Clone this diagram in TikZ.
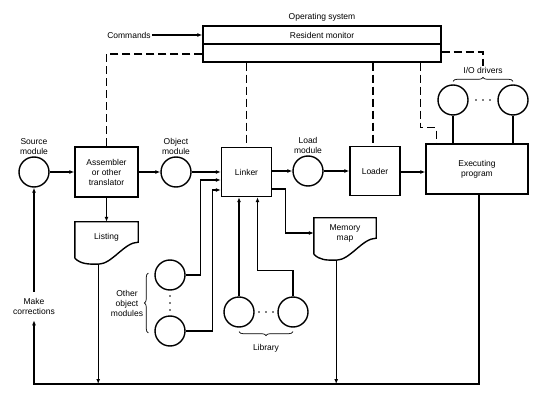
\documentclass[tikz,border=0pt]{standalone}
\usepackage{fontspec}
\setmainfont{Liberation Sans}
\usetikzlibrary{arrows.meta,positioning,calc,decorations.pathreplacing}

% outline of a printed sheet, with a named point on its lowest edge
\newcommand{\docform}[1]{%
  \draw[wire] ($(#1.south west)+(0,6)$) -- (#1.north west) -- (#1.north east)
    -- ($(#1.south east)+(0,-10)$)
    .. controls +(-14,0) and +(14,0) .. ($(#1.south east)+(-40,12)$) coordinate (#1-out)
    .. controls +(-10,0) and +(6,6) .. ($(#1.south west)+(0,6)$);}

\begin{document}
\begin{tikzpicture}[
        x=1pt, y=-1pt,
        font=\fontsize{8.5}{10}\selectfont,
        wire/.style={line width=1.4pt},
        feed/.style={wire, -{Latex[length=5pt, width=4pt]}},
        ctrl/.style={wire, dash pattern=on 8pt off 4pt},
        block/.style={draw, wire, align=center, inner sep=2pt},
        unit/.style={circle, draw, wire, minimum size=30pt, inner sep=0pt},
        sheet/.style={align=center, minimum width=63pt, minimum height=30pt, inner sep=2pt},
        tag/.style={align=center, inner sep=1pt},
        spot/.style={circle, fill, inner sep=0pt, minimum size=1.8pt},
        curly/.style={decorate, decoration={brace, amplitude=4pt}, line width=0.7pt}
    ]
        \useasboundingbox (0,0) rectangle (534,419);

        % operating system
        \node[block, minimum width=238pt, minimum height=36pt] (osbox) at (322,44) {};
        \node[block, minimum width=238pt, minimum height=18pt] (resmon) at (322,35) {Resident monitor};
        \node[tag, above=3pt of osbox] (ostxt) {Operating system};
        \node[tag] (cmd) at (129,35) {Commands};

        % main chain
        \node[unit] (src) at (34,172) {};
        \node[tag, above=1pt of src] (srctxt) {Source\\module};
        \node[block, minimum width=63pt, minimum height=50pt] (asm) at (106.5,172) {Assembler\\or other\\translator};
        \node[unit] (objm) at (176,172) {};
        \node[tag, above=1pt of objm] (objtxt) {Object\\module};
        \node[block, minimum width=50pt, minimum height=49pt] (linker) at (246.5,172) {Linker};
        \node[unit] (loadm) at (308,171) {};
        \node[tag, above=1pt of loadm] (loadtxt) {Load\\module};
        \node[block, minimum width=50pt, minimum height=49pt] (loader) at (375,171) {Loader};
        \node[block, minimum width=102pt, minimum height=50pt] (exec) at (477,169) {Executing\\program};

        % I/O drivers
        \node[unit] (io1) at (453,100) {};
        \node[unit] (io2) at (513,100) {};
        \node[tag] (iotxt) at (483,70) {I/O drivers};

        % printed output
        \node[sheet] (listing) at (106.5,237) {Listing};
        \node[sheet, minimum width=62pt] (mmap) at (345,233) {Memory\\map};
        \docform{listing}
        \docform{mmap}

        % other object modules and library
        \node[unit] (oom1) at (170,275) {};
        \node[unit] (oom2) at (170,331) {};
        \node[tag] (oomtxt) at (127,303) {Other\\object\\modules};
        \node[unit] (lib1) at (239,312) {};
        \node[unit] (lib2) at (293,312) {};
        \node[tag] (libtxt) at (266,348) {Library};

        \node[tag, inner ysep=6pt] (make) at (34,306) {Make\\corrections};
        \coordinate (base) at (0,384);

        % dots between the circles
        \foreach \k in {-7,0,7} {
            \node[spot] at ($(io1)!0.5!(io2)+(\k,0)$) {};
            \node[spot] at ($(lib1)!0.5!(lib2)+(\k,0)$) {};
            \node[spot] at ($(oom1)!0.5!(oom2)+(0,\k)$) {};
        }

        % braces
        \draw[curly] ([xshift=-6pt,yshift=-2pt]oom2.west) -- ([xshift=-6pt,yshift=2pt]oom1.west);
        \draw[curly] ([yshift=-4pt]lib2.south) -- ([yshift=-4pt]lib1.south);
        \draw[curly] ([yshift=3pt]io1.north) -- ([yshift=3pt]io2.north);

        % control (dashed)
        \draw[ctrl] ([yshift=-10pt]osbox.west) -| (asm.north);
        \draw[ctrl] (linker.north |- osbox.south) -- (linker.north);
        \draw[ctrl] ([xshift=-2pt]loader.north |- osbox.south) -- ([xshift=-2pt]loader.north);
        \draw[ctrl] ([yshift=-8pt]osbox.east) -| (iotxt.north);
        \draw[ctrl] ([xshift=-5pt]exec.north west |- osbox.south) -- ++(0,65) -| ([xshift=11pt]exec.north west);

        % flow
        \draw[feed] (cmd.east) -- (resmon.west);
        \draw[feed] (src.east) -- (asm.west);
        \draw[feed] (asm.east) -- (objm.west);
        \draw[feed] (objm.east) -- (linker.west);
        \draw[feed] (linker.east |- loadm.west) -- (loadm.west);
        \draw[feed] (loadm.east) -- (loadm.east -| loader.west);
        \draw[feed] ([yshift=-1pt]loader.east) -- ([yshift=-1pt]loader.east -| exec.west);
        \draw[feed] (asm.south) -- (listing.north);
        \draw[feed] ([yshift=-17pt]linker.east) -- ++(13,0) |- (mmap.west);
        \draw[feed] (oom1.east) -- ++(15,0) |- ([yshift=-8pt]linker.west);
        \draw[feed] (oom2.east) -- ++(27,0) |- ([yshift=-18pt]linker.west);
        \draw[feed] (lib1.north) -- (lib1.north |- linker.south);
        \draw[feed] (lib2.north) -- ++(0,-26) -| ([xshift=11pt]linker.south);
        \draw[wire] (io1.south) -- (io1.south |- exec.north);
        \draw[wire] (io2.south) -- (io2.south |- exec.north);

        % feedback loop
        \draw[feed] (listing-out) -- (listing-out |- base);
        \draw[feed] (mmap-out) -- (mmap-out |- base);
        \draw[feed] ([xshift=2pt]exec.south) -- ([xshift=2pt]exec.south |- base) -| (make.south);
        \draw[feed] (make.north) -- (src.south);

    \end{tikzpicture}
\end{document}
